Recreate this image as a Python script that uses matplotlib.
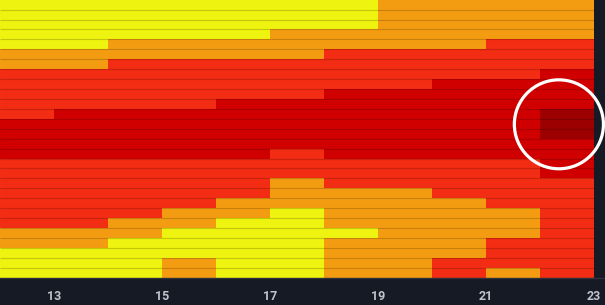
import matplotlib
matplotlib.use("agg")
import matplotlib.pyplot as plt
from matplotlib.colors import ListedColormap, BoundaryNorm
from matplotlib.patches import Ellipse
import numpy as np

# hours on the x axis (each cell spans [h, h+1])
hours = list(range(12, 24))
tick_hours = [13, 15, 17, 19, 21, 23]

# level per cell: 0 yellow, 1 orange, 2 red, 3 dark red, 4 darkest
Y, O, R, D, K = 0, 1, 2, 3, 4
levels = [
    [Y, Y, Y, Y, Y, Y, Y, O, O, O, O],
    [Y, Y, Y, Y, Y, Y, Y, O, O, O, O],
    [Y, Y, Y, Y, Y, Y, Y, O, O, O, O],
    [Y, Y, Y, Y, Y, O, O, O, O, O, O],
    [Y, Y, O, O, O, O, O, O, O, R, R],
    [O, O, O, O, O, O, R, R, R, R, R],
    [O, O, R, R, R, R, R, R, R, R, R],
    [R, R, R, R, R, R, R, R, R, R, D],
    [R, R, R, R, R, R, R, R, D, D, D],
    [R, R, R, R, R, R, D, D, D, D, D],
    [R, R, R, R, D, D, D, D, D, D, D],
    [R, D, D, D, D, D, D, D, D, D, K],
    [D, D, D, D, D, D, D, D, D, D, K],
    [D, D, D, D, D, D, D, D, D, D, K],
    [D, D, D, D, D, D, D, D, D, D, D],
    [D, D, D, D, D, R, D, D, D, D, D],
    [R, R, R, R, R, R, R, R, R, R, D],
    [R, R, R, R, R, R, R, R, R, R, D],
    [R, R, R, R, R, O, R, R, R, R, R],
    [R, R, R, R, R, O, O, O, R, R, R],
    [R, R, R, R, O, O, O, O, O, R, R],
    [R, R, R, O, O, Y, O, O, O, O, R],
    [R, R, O, O, Y, Y, O, O, O, O, R],
    [O, O, O, Y, Y, Y, Y, O, O, O, R],
    [O, O, Y, Y, Y, Y, O, O, O, R, R],
    [Y, Y, Y, Y, Y, Y, O, O, O, R, R],
    [Y, Y, Y, O, Y, Y, O, O, R, R, R],
    [Y, Y, Y, O, Y, Y, O, O, R, O, R],
]

colors = ["#eef30f", "#f39c12", "#f22d13", "#d00000", "#9c0000"]
bg = "#151a25"

grid = np.array(levels)
n_rows = grid.shape[0]

fig = plt.figure(figsize=(6.05, 3.05), dpi=100, facecolor=bg)
ax = fig.add_axes([0, 27.3 / 305, 1, 278 / 305])
ax.set_facecolor(bg)

cmap = ListedColormap(colors)
norm = BoundaryNorm(np.arange(-0.5, 5.5, 1), cmap.N)
ax.pcolormesh(hours, np.arange(n_rows + 1), grid, cmap=cmap, norm=norm,
              shading="flat")

# thin darker line between rows
for r in range(1, n_rows):
    ax.plot([hours[0], hours[-1]], [r, r], color="black", alpha=0.18,
            lw=0.8, solid_capstyle="butt")

ax.set_xlim(12, 12 + 605 / 54)
ax.set_ylim(n_rows, 0)

# highlight circle
ax.add_patch(Ellipse((22.35, 12.55), 1.65, 8.96, fill=False,
                     edgecolor="white", lw=2.3, clip_on=False, zorder=5))

ax.set_yticks([])
ax.set_xticks(tick_hours)
ax.set_xticklabels([str(h) for h in tick_hours], family="Roboto",
                   fontweight="bold", fontsize=9, color="#c2c4ca")
ax.tick_params(axis="x", length=0, pad=8.5)
for s in ["top", "left", "right"]:
    ax.spines[s].set_visible(False)
ax.spines["bottom"].set_color("#2c313c")
ax.spines["bottom"].set_linewidth(1)

fig.savefig("out.png", dpi=100, facecolor=bg)
